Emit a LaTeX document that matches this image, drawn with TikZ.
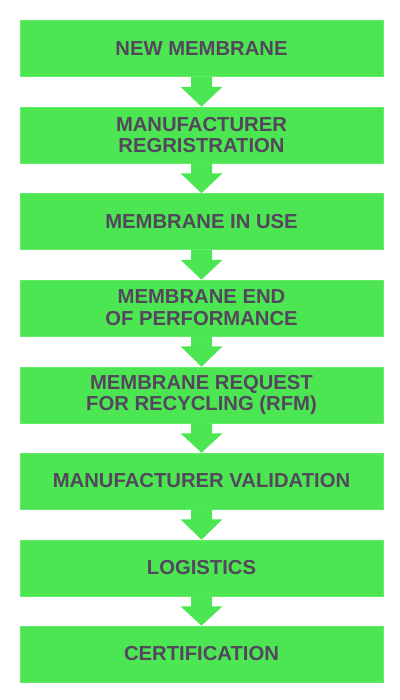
\documentclass[tikz,border=0pt]{standalone}
\usepackage{fontspec}
\setmainfont{Liberation Sans}
\usepackage{tikz}
\usetikzlibrary{calc}
\usepackage{xcolor}
\definecolor{stepgreen}{RGB}{75, 230, 82}
\definecolor{stepedge}{RGB}{100, 236, 106}
\definecolor{steptext}{RGB}{84, 70, 92}

\tikzset{
  stagebox/.style={rectangle, fill=stepgreen, draw=stepedge, line width=0.4pt,
    minimum width=363*0.025cm, minimum height=56*0.025cm, align=center,
    inner sep=0pt, text=steptext, font=\fontsize{14.4}{15.6}\selectfont\bfseries},
  flowarrow/.style={fill=stepgreen}
}
% block arrow from the bottom of one stage to the top of the next
\newcommand{\stagearrow}[2]{%
  \fill[flowarrow] ($(#1.south)+(-10.5,0)$) -- ($(#1.south)+(10.5,0)$)
    -- ($(#1.south)+(10.5,10)$) -- ($(#1.south)+(21,10)$) -- (#2.north)
    -- ($(#1.south)+(-21,10)$) -- ($(#1.south)+(-10.5,10)$) -- cycle;}

\begin{document}
\begin{tikzpicture}[x=0.025cm, y=-0.025cm]
    \useasboundingbox (0,0) rectangle (400,700);

    % Stages of the membrane
    \node[stagebox] (newm) at (201.5,48.5) {NEW MEMBRANE};
    \node[stagebox] (regis) at (201.5,135) {MANUFACTURER\\REGRISTRATION};
    \node[stagebox] (inuse) at (201.5,221.5) {MEMBRANE IN USE};
    \node[stagebox] (endperf) at (201.5,308) {MEMBRANE END\\OF PERFORMANCE};
    \node[stagebox] (rfm) at (201.5,395) {MEMBRANE REQUEST\\FOR RECYCLING (RFM)};
    \node[stagebox] (valid) at (201.5,481) {MANUFACTURER VALIDATION};
    \node[stagebox] (logis) at (201.5,568) {LOGISTICS};
    \node[stagebox] (certif) at (201.5,654) {CERTIFICATION};

    % Arrows between stages
    \stagearrow{newm}{regis}
    \stagearrow{regis}{inuse}
    \stagearrow{inuse}{endperf}
    \stagearrow{endperf}{rfm}
    \stagearrow{rfm}{valid}
    \stagearrow{valid}{logis}
    \stagearrow{logis}{certif}
\end{tikzpicture}
\end{document}
